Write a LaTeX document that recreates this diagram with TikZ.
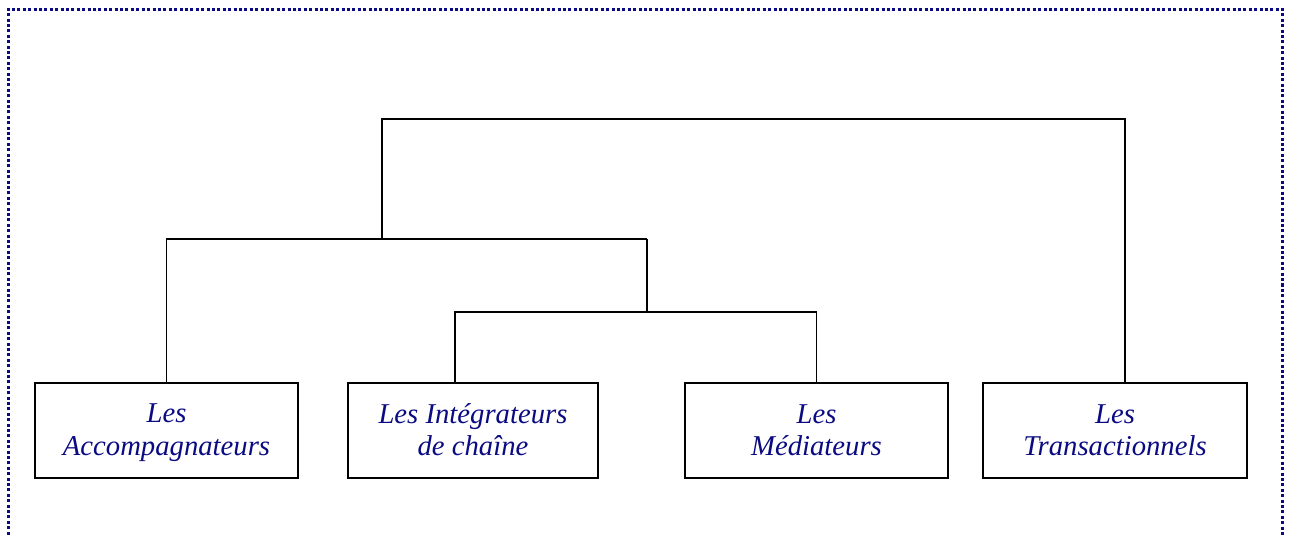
\documentclass[tikz,border=0pt]{standalone}
\usepackage{fontspec}
\setmainfont{Liberation Serif}
\definecolor{navyblue}{RGB}{10,10,130}
\newcommand{\topst}{\rule{0pt}{23pt}}
\newcommand{\botst}{\rule[-5.5pt]{0pt}{5.5pt}}
\begin{document}
\begin{tikzpicture}[x=1pt,y=-1pt,
  frame/.style={navyblue,line width=3pt,dash pattern=on 3pt off 2.4pt},
  box/.style={draw=black,line width=1.8pt,minimum height=95pt,inner sep=0pt,
    align=center,font=\fontsize{28.7}{32.5}\selectfont\itshape,text=navyblue},
  link/.style={draw=black,line width=1.8pt}]
\useasboundingbox (0,0) rectangle (1290,536);
\draw[frame] (8.5,540) -- (8.5,9) -- (1282,9) -- (1282,540);
\node[box,minimum width=263pt] (b1) at (166.5,430.5) {\topst Les\\Accompagnateurs\botst};
\node[box,minimum width=250pt] (b2) at (473,430.5) {\topst Les Intégrateurs\\de chaîne\botst};
\node[box,minimum width=263pt] (b3) at (816.5,430.5) {\topst Les\\Médiateurs\botst};
\node[box,minimum width=264pt] (b4) at (1115,430.5) {\topst Les\\Transactionnels\botst};
\coordinate (x2) at (455,0);
\coordinate (x4) at (1125,0);
\coordinate (m1) at (647,312);
\coordinate (m2) at (647,239);
\coordinate (m3) at (382,239);
\coordinate (m4) at (382,119);
\draw[link] (b2.north -| x2) |- (m1) -| (b3.north);
\draw[link] (m1) -- (m2);
\draw[link] (b1.north) |- (m2);
\draw[link] (m3) -- (m4) -| (b4.north -| x4);
\end{tikzpicture}
\end{document}
